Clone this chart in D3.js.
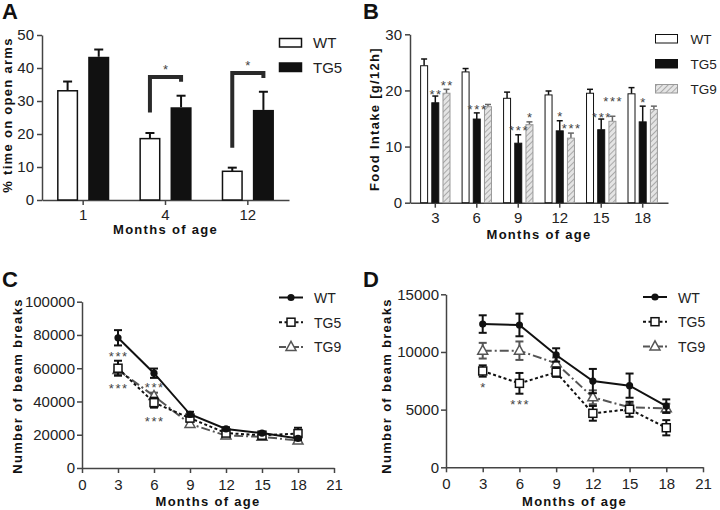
<!DOCTYPE html>
<html>
<head>
<meta charset="utf-8">
<script src="https://cdn.jsdelivr.net/npm/d3@7"></script>
<style>
  body { margin: 0; background: #fff; }
  svg { display: block; font-family: "Liberation Sans", Arial, sans-serif; }
  .axis path, .axis line { stroke: #444; stroke-width: 1.5px; }
  .axis text { font-size: 15px; fill: #222; }
  .title { font-size: 13px; font-weight: bold; letter-spacing: 1.3px; fill: #111; }
  .letter { font-size: 22px; font-weight: bold; fill: #111; }
  .star { font-size: 13px; letter-spacing: 1.6px; fill: #444; }
</style>
</head>
<body>
<svg width="720" height="510"></svg>
<script>
//Panel A data (elevated plus maze)
const monthsA = ["1", "4", "12"];
const seriesA = ["WT", "TG5"];
const wtA = [33.1, 18.6, 8.7];
const wtAErr = [2.8, 1.7, 1.1];
const tg5A = [43.4, 28.1, 27.3];
const tg5AErr = [2.2, 3.5, 5.5];
const ticksA = [0, 10, 20, 30, 40, 50];
const bracketsA = [
  {month: "4", top: 37.3, left: 26.5, right: 35.8, text: "*"},
  {month: "12", top: 38.5, left: 15.8, right: 37.0, text: "*"}
];

//Panel B data (food intake)
const monthsB = ["3", "6", "9", "12", "15", "18"];
const seriesB = ["WT", "TG5", "TG9"];
const wtB = [24.4, 23.3, 18.6, 19.2, 19.5, 19.4];
const wtBErr = [1.2, 0.6, 1.1, 0.7, 0.7, 1.1];
const tg5B = [17.8, 14.9, 10.6, 12.8, 13.0, 14.4];
const tg5BErr = [1.2, 1.1, 1.5, 1.8, 1.9, 2.8];
const tg9B = [19.5, 17.1, 13.9, 11.5, 14.5, 16.6];
const tg9BErr = [0.7, 0.4, 0.5, 0.9, 0.9, 0.6];
const ticksB = [0, 10, 20, 30];
const starsB = [
  {month: "3", series: "TG5", text: "**", y: 19.8},
  {month: "3", series: "TG9", text: "**", y: 21.5},
  {month: "6", series: "TG5", text: "***", y: 17.2},
  {month: "9", series: "TG5", text: "***", y: 13.4},
  {month: "9", series: "TG9", text: "*", y: 15.8},
  {month: "12", series: "TG5", text: "*", y: 15.9},
  {month: "12", series: "TG9", text: "***", y: 13.8},
  {month: "15", series: "TG5", text: "***", y: 15.8},
  {month: "15", series: "TG9", text: "***", y: 18.5},
  {month: "18", series: "TG5", text: "*", y: 18.3}
];

//Panel C data (beam breaks, total)
const monthsLine = [3, 6, 9, 12, 15, 18];
const ticksMonth = [0, 3, 6, 9, 12, 15, 18, 21];
const wtC = [78300, 57000, 32300, 23500, 21000, 17800];
const wtCErr = [4600, 2800, 1500, 1000, 800, 1000];
const tg5C = [60000, 39300, 30000, 21000, 19700, 20700];
const tg5CErr = [4500, 3000, 1500, 1500, 1000, 3500];
const tg9C = [59000, 43300, 26500, 19500, 18800, 16500];
const tg9CErr = [2500, 2000, 1500, 1500, 1200, 1500];
const ticksC = [0, 20000, 40000, 60000, 80000, 100000];
const starsC = [
  {month: 3, text: "***", y: 69000},
  {month: 3, text: "***", y: 49500},
  {month: 6, text: "***", y: 50500},
  {month: 6, text: "***", y: 29900}
];

//Panel D data (beam breaks, second measure)
const wtD = [12420, 12340, 9740, 7480, 7080, 5310];
const wtDErr = [760, 980, 580, 1050, 1050, 580];
const tg5D = [8350, 7280, 8240, 4680, 5030, 3430];
const tg5DErr = [490, 900, 400, 640, 650, 660];
const tg9D = [10110, 10110, 9020, 6070, 5200, 5110];
const tg9DErr = [680, 800, 500, 600, 300, 400];
const ticksD = [0, 5000, 10000, 15000];
const starsD = [
  {month: 3, text: "*", y: 7140},
  {month: 6, text: "***", y: 5690}
];

const chart = d3.select("svg");
const plain = d3.format("d");

//Hatch for TG9 bars
chart.append("defs")
     .append("pattern")
     .attr("id", "hatch")
     .attr("patternUnits", "userSpaceOnUse")
     .attr("width", 4)
     .attr("height", 4)
     .attr("patternTransform", "rotate(45)")
     .call(p => {
       p.append("rect").attr("width", 4).attr("height", 4).attr("fill", "#e4e4e4");
       p.append("line").attr("x1", 0).attr("y1", 0).attr("x2", 0).attr("y2", 4)
        .attr("stroke", "#9a9a9a").attr("stroke-width", 1.6);
     });

//Shared helpers
function title(x, y, text, rotate){
  chart.append("text")
       .classed("title", true)
       .attr("text-anchor", "middle")
       .attr("transform", rotate ? `translate(${x},${y}) rotate(-90)` : `translate(${x},${y})`)
       .text(text);
}

function letter(x, y, text){
  chart.append("text").classed("letter", true).attr("x", x).attr("y", y).text(text);
}

function errorBar(g, x, y0, y1, cap, color, width){
  g.append("line").attr("x1", x).attr("x2", x).attr("y1", y0).attr("y2", y1)
   .attr("stroke", color).attr("stroke-width", width);
  g.append("line").attr("x1", x - cap / 2).attr("x2", x + cap / 2).attr("y1", y1).attr("y2", y1)
   .attr("stroke", color).attr("stroke-width", width);
}

function star(x, yCenter, text){
  chart.append("text")
       .classed("star", true)
       .attr("x", x + 0.8)
       .attr("y", yCenter + 7.5)
       .attr("text-anchor", "middle")
       .text(text);
}

//================ Panel A ================
const xA = d3.scaleBand().domain(monthsA).range([42, 289]);
const xAInner = d3.scaleBand().domain(seriesA).range([0, xA.bandwidth()])
                  .paddingInner(0.323).paddingOuter(0.484);
const yA = d3.scaleLinear().domain([0, 50]).range([200, 35]);

chart.append("g").classed("axis", true)
     .attr("transform", "translate(42,0)")
     .call(d3.axisLeft(yA).tickValues(ticksA).tickSize(5).tickPadding(3).tickSizeOuter(0));
chart.append("g").classed("axis", true)
     .attr("transform", "translate(0,200)")
     .call(d3.axisBottom(xA).tickSize(5).tickPadding(4).tickSizeOuter(0));

const barsA = chart.append("g");
const valuesA = {WT: [wtA, wtAErr], TG5: [tg5A, tg5AErr]};
seriesA.forEach(s => {
  monthsA.forEach((m, i) => {
    const v = valuesA[s][0][i];
    const e = valuesA[s][1][i];
    const x = xA(m) + xAInner(s);
    const cx = x + xAInner.bandwidth() / 2;
    errorBar(barsA, cx, yA(v), yA(v + e), 9, "#111", 2);
    barsA.append("rect")
         .attr("x", s === "WT" ? x + 0.75 : x)
         .attr("y", yA(v))
         .attr("width", s === "WT" ? xAInner.bandwidth() - 1.5 : xAInner.bandwidth())
         .attr("height", yA(0) - yA(v))
         .attr("fill", s === "WT" ? "#fff" : "#111")
         .attr("stroke", "#111")
         .attr("stroke-width", s === "WT" ? 1.5 : 0);
  });
});

//Significance brackets
bracketsA.forEach(b => {
  const xl = xA(b.month) + xAInner("WT") + xAInner.bandwidth() / 2;
  const xr = xA(b.month) + xAInner("TG5") + xAInner.bandwidth() / 2;
  chart.append("path")
       .attr("d", `M${xl},${yA(b.left)}V${yA(b.top)}H${xr}V${yA(b.right)}`)
       .attr("fill", "none")
       .attr("stroke", "#2a2a2a")
       .attr("stroke-width", 4);
  star((xl + xr) / 2, yA(b.top) - 10, b.text);
});

//Legend A
const legendA = chart.append("g");
seriesA.forEach((s, i) => {
  legendA.append("rect")
         .attr("x", 279.5).attr("y", 38.5 + i * 24.5)
         .attr("width", 22).attr("height", 8.5)
         .attr("fill", s === "WT" ? "#fff" : "#111")
         .attr("stroke", "#111").attr("stroke-width", 1.5);
  legendA.append("text")
         .attr("x", 313).attr("y", 48 + i * 24.5)
         .style("font-size", "15px").attr("fill", "#222")
         .text(s);
});

title(12, 115, "% time on open arms", true);
title(165.5, 234, "Months of age");
letter(2, 19, "A");

//================ Panel B ================
const xB = d3.scaleBand().domain(monthsB).range([410, 668]).paddingOuter(0.11);
const xBInner = d3.scaleBand().domain(seriesB).range([0, xB.bandwidth()])
                  .paddingInner(0.286).paddingOuter(0.496);
const yB = d3.scaleLinear().domain([0, 30]).range([202.7, 34.3]);

chart.append("g").classed("axis", true)
     .attr("transform", "translate(410,0)")
     .call(d3.axisLeft(yB).tickValues(ticksB).tickSize(5).tickPadding(3).tickSizeOuter(0));
chart.append("g").classed("axis", true)
     .attr("transform", "translate(0,202.7)")
     .call(d3.axisBottom(xB).tickSize(5).tickPadding(5).tickSizeOuter(0));

const barsB = chart.append("g");
const valuesB = {WT: [wtB, wtBErr], TG5: [tg5B, tg5BErr], TG9: [tg9B, tg9BErr]};
const fillB = {WT: "#fff", TG5: "#111", TG9: "url(#hatch)"};
const strokeB = {WT: "#111", TG5: "#111", TG9: "#999"};
seriesB.forEach(s => {
  monthsB.forEach((m, i) => {
    const v = valuesB[s][0][i];
    const e = valuesB[s][1][i];
    const x = xB(m) + xBInner(s);
    const cx = x + xBInner.bandwidth() / 2;
    errorBar(barsB, cx, yB(v), yB(v + e), 6, s === "TG9" ? "#666" : "#111", 1.5);
    barsB.append("rect")
         .attr("x", x + 0.5)
         .attr("y", yB(v))
         .attr("width", xBInner.bandwidth() - 1)
         .attr("height", yB(0) - yB(v))
         .attr("fill", fillB[s])
         .attr("stroke", strokeB[s])
         .attr("stroke-width", 1);
  });
});

starsB.forEach(d => {
  star(xB(d.month) + xBInner(d.series) + xBInner.bandwidth() / 2, yB(d.y), d.text);
});

//Legend B
const legendB = chart.append("g");
seriesB.forEach((s, i) => {
  legendB.append("rect")
         .attr("x", 655.5).attr("y", 34.5 + i * 25)
         .attr("width", 22).attr("height", 8.5)
         .attr("fill", fillB[s])
         .attr("stroke", s === "TG9" ? "#999" : "#111").attr("stroke-width", 1);
  legendB.append("text")
         .attr("x", 690.5).attr("y", 43.5 + i * 25)
         .style("font-size", "13.5px").attr("fill", "#222")
         .text(s);
});

title(379, 119, "Food Intake [g/12h]", true);
title(539, 239, "Months of age");
letter(363, 19, "B");

//================ Line panels ================
const styles = {
  WT:  {color: "#111", dash: null, marker: "circle"},
  TG5: {color: "#111", dash: "3,2.5", marker: "square"},
  TG9: {color: "#555", dash: "9,3,2,3", marker: "triangle"}
};

function marker(g, kind, x, y, color){
  if (kind === "circle") {
    g.append("circle").attr("cx", x).attr("cy", y).attr("r", 3.6).attr("fill", color);
  } else if (kind === "square") {
    g.append("rect").attr("x", x - 4).attr("y", y - 4).attr("width", 8).attr("height", 8)
     .attr("fill", "#fff").attr("stroke", color).attr("stroke-width", 1.5);
  } else {
    g.append("path").attr("d", `M${x},${y - 5.5}L${x + 5},${y + 3.5}L${x - 5},${y + 3.5}Z`)
     .attr("fill", "#fff").attr("stroke", color).attr("stroke-width", 1.5);
  }
}

function linePanel(cfg){
  const x = d3.scaleLinear().domain([0, 21]).range(cfg.xRange);
  const y = d3.scaleLinear().domain([0, cfg.yMax]).range(cfg.yRange);

  chart.append("g").classed("axis", true)
       .attr("transform", `translate(${cfg.xRange[0]},0)`)
       .call(d3.axisLeft(y).tickValues(cfg.yTicks).tickFormat(plain)
               .tickSize(5).tickPadding(2).tickSizeOuter(0));
  chart.append("g").classed("axis", true)
       .attr("transform", `translate(0,${cfg.yRange[0]})`)
       .call(d3.axisBottom(x).tickValues(ticksMonth).tickFormat(plain)
               .tickSize(5).tickPadding(6).tickSizeOuter(0));

  const line = d3.line().x((d, i) => x(monthsLine[i])).y(d => y(d));
  const plot = chart.append("g");

  //Draw TG9 under TG5 under WT
  ["TG9", "TG5", "WT"].forEach(s => {
    const st = styles[s];
    const vals = cfg.series[s][0];
    const errs = cfg.series[s][1];
    plot.append("path")
        .datum(vals)
        .attr("d", line)
        .attr("fill", "none")
        .attr("stroke", st.color)
        .attr("stroke-width", 2)
        .attr("stroke-dasharray", st.dash);
    vals.forEach((v, i) => {
      const cx = x(monthsLine[i]);
      errorBar(plot, cx, y(v - errs[i]), y(v + errs[i]), 8, st.color, 2);
      plot.append("line").attr("x1", cx - 4).attr("x2", cx + 4)
          .attr("y1", y(v - errs[i])).attr("y2", y(v - errs[i]))
          .attr("stroke", st.color).attr("stroke-width", 2);
      marker(plot, st.marker, cx, y(v), st.color);
    });
  });

  cfg.stars.forEach(d => star(x(d.month), y(d.y), d.text));

  //Legend
  const lg = chart.append("g");
  ["WT", "TG5", "TG9"].forEach((s, i) => {
    const st = styles[s];
    const ly = cfg.legend[1] + i * 24.7;
    lg.append("line")
      .attr("x1", cfg.legend[0]).attr("x2", cfg.legend[0] + 24)
      .attr("y1", ly).attr("y2", ly)
      .attr("stroke", st.color).attr("stroke-width", 2)
      .attr("stroke-dasharray", s === "TG9" ? "7,2,2,2" : st.dash);
    marker(lg, st.marker, cfg.legend[0] + 12, ly, st.color);
    lg.append("text")
      .attr("x", cfg.legend[0] + 35).attr("y", ly + 5.5)
      .style("font-size", "14px").attr("fill", "#222")
      .text(s);
  });

  title(cfg.yTitleX, 386, "Number of beam breaks", true);
  title((cfg.xRange[0] + cfg.xRange[1]) / 2, 506, "Months of age");
}

//================ Panel C ================
linePanel({
  xRange: [82, 334],
  yRange: [468, 301.7],
  yMax: 100000,
  yTicks: ticksC,
  series: {WT: [wtC, wtCErr], TG5: [tg5C, tg5CErr], TG9: [tg9C, tg9CErr]},
  stars: starsC,
  legend: [279, 297.5],
  yTitleX: 22
});
letter(2, 287, "C");

//================ Panel D ================
linePanel({
  xRange: [446, 703],
  yRange: [467.3, 294.3],
  yMax: 15000,
  yTicks: ticksD,
  series: {WT: [wtD, wtDErr], TG5: [tg5D, tg5DErr], TG9: [tg9D, tg9DErr]},
  stars: starsD,
  legend: [643, 297],
  yTitleX: 391
});
letter(363, 287, "D");
</script>
</body>
</html>
